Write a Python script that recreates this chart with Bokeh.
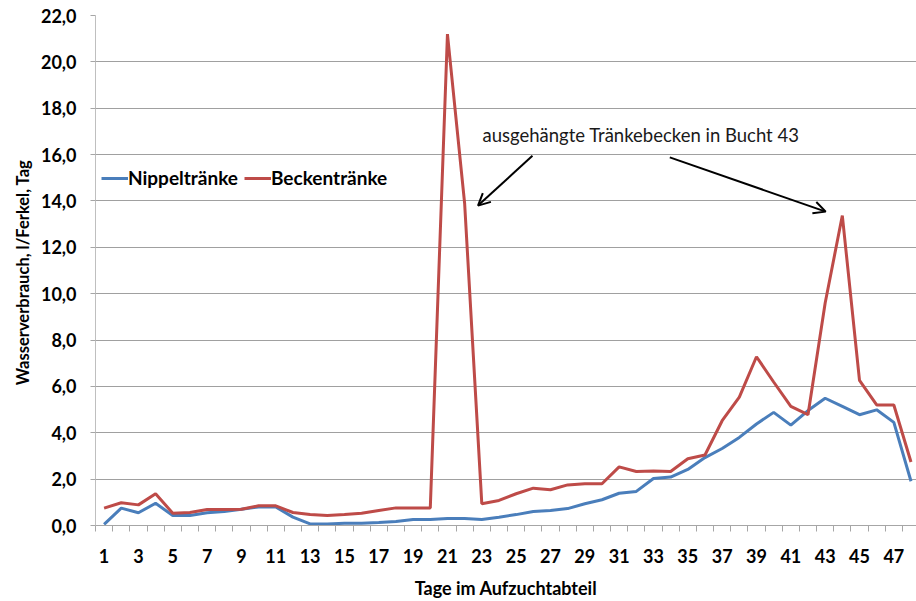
from bokeh.plotting import figure
from bokeh.models import (FixedTicker, Range1d, Label, Arrow, OpenHead, Legend, LegendItem, Title)
from bokeh.embed import file_html
from bokeh.resources import INLINE

days = list(range(1, 49))
nippel = [0.05, 0.75, 0.55, 0.96, 0.43, 0.43, 0.55, 0.60, 0.70, 0.80, 0.80, 0.36,
          0.07, 0.06, 0.10, 0.10, 0.13, 0.17, 0.26, 0.26, 0.30, 0.30, 0.26, 0.36,
          0.47, 0.60, 0.65, 0.73, 0.94, 1.11, 1.39, 1.47, 2.03, 2.09, 2.42, 2.93,
          3.32, 3.80, 4.38, 4.88, 4.33, 4.96, 5.49, 5.14, 4.78, 4.99, 4.45, 1.91]
becken = [0.75, 0.98, 0.89, 1.37, 0.53, 0.56, 0.69, 0.69, 0.70, 0.85, 0.85, 0.56,
          0.47, 0.43, 0.47, 0.53, 0.65, 0.76, 0.76, 0.76, 21.2, 13.9, 0.94, 1.08,
          1.37, 1.61, 1.54, 1.75, 1.80, 1.80, 2.53, 2.33, 2.35, 2.33, 2.88, 3.04,
          4.52, 5.54, 7.28, 6.19, 5.14, 4.78, 9.60, 13.37, 6.26, 5.20, 5.20, 2.74]

y_ticks = [0, 2, 4, 6, 8, 10, 12, 14, 16, 18, 20, 22]
y_tick_labels = ["0,0", "2,0", "4,0", "6,0", "8,0", "10,0", "12,0", "14,0", "16,0", "18,0", "20,0", "22,0"]
x_ticks = list(range(1, 48, 2))
x_boundaries = [d - 0.5 for d in range(1, 49)]

series_names = ["Nippeltränke", "Beckentränke"]
x_title = "Tage im Aufzuchtabteil"
y_title = "Wasserverbrauch,  l/Ferkel, Tag"
annotation_text = "ausgehängte Tränkebecken in Bucht 43"

FONT = "Lato"
BLUE = "#4A7EBB"
RED = "#BE4B48"

p = figure(width=916, height=601, output_backend="svg", toolbar_location=None,
           x_range=Range1d(0.5, 48.32), y_range=Range1d(0, 22),
           min_border_left=95, min_border_right=0, min_border_top=15, min_border_bottom=76)
p.outline_line_color = None
p.background_fill_color = "white"

r1 = p.line(days, nippel, line_color=BLUE, line_width=3)
r2 = p.line(days, becken, line_color=RED, line_width=3)

# axes
p.xaxis.ticker = FixedTicker(ticks=x_ticks, minor_ticks=x_boundaries)
p.xaxis.major_tick_out = 0
p.xaxis.major_tick_in = 0
p.xaxis.minor_tick_out = 6
p.xaxis.minor_tick_in = 0
p.xaxis.minor_tick_line_color = "#a6a6a6"
p.xaxis.axis_line_color = "#a6a6a6"
p.xaxis.major_label_standoff = 17
p.xaxis.axis_label = x_title
p.xaxis.axis_label_standoff = 11

p.yaxis.ticker = FixedTicker(ticks=y_ticks)
p.yaxis.major_label_overrides = {t: s for t, s in zip(y_ticks, y_tick_labels)}
p.yaxis.major_tick_out = 5
p.yaxis.major_tick_in = 0
p.yaxis.minor_tick_line_color = None
p.yaxis.major_tick_line_color = "#a6a6a6"
p.yaxis.axis_line_color = "#bfbfbf"
p.yaxis.major_label_standoff = 14

for ax in (p.xaxis, p.yaxis):
    ax.major_label_text_font = FONT
    ax.major_label_text_font_style = "bold"
    ax.major_label_text_font_size = "18px"
    ax.major_label_text_color = "black"
    ax.axis_label_text_font = FONT
    ax.axis_label_text_font_style = "bold"
    ax.axis_label_text_color = "black"
p.xaxis.axis_label_text_font_size = "18px"

# y-axis title in a side panel, shifted down like the original
p.add_layout(Title(text=y_title, align="center", offset=-45, standoff=10,
                   text_font=FONT, text_font_style="bold", text_font_size="16.5px",
                   text_color="black"), "left")

p.xgrid.grid_line_color = None
p.ygrid.grid_line_color = "#a0a0a0"
p.ygrid.grid_line_width = 1

# legend
legend = Legend(items=[LegendItem(label=series_names[0], renderers=[r1]),
                       LegendItem(label=series_names[1], renderers=[r2])],
                location=(6, 336), orientation="horizontal",
                padding=0, margin=0, spacing=6, glyph_width=27, glyph_height=20,
                label_standoff=0, background_fill_alpha=0, border_line_alpha=0,
                label_text_font=FONT, label_text_font_style="bold",
                label_text_font_size="19px", label_text_color="black")
p.add_layout(legend)

# annotation
p.add_layout(Label(x=23.04, y=16.86, text=annotation_text, text_font=FONT,
                   text_font_size="18.5px", text_color="#1a1a1a", text_baseline="middle"))
p.add_layout(Arrow(x_start=25.95, y_start=15.95, x_end=22.78, y_end=13.8,
                   line_color="black", line_width=2,
                   end=OpenHead(size=12, line_color="black", line_width=2)))
p.add_layout(Arrow(x_start=33.95, y_start=15.88, x_end=43.03, y_end=13.54,
                   line_color="black", line_width=2,
                   end=OpenHead(size=12, line_color="black", line_width=2)))

open("out.html", "w").write(file_html(p, INLINE))
